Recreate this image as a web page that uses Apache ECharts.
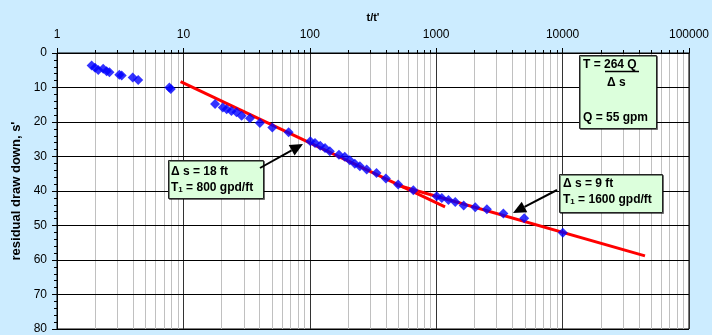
<!DOCTYPE html>
<html>
<head>
<meta charset="utf-8">
<script src="https://cdn.jsdelivr.net/npm/echarts@6/dist/echarts.min.js"></script>
<style>
  html, body { margin: 0; padding: 0; background: #CCECFF; }
  #chart { width: 712px; height: 335px; }
</style>
</head>
<body>
<div id="chart"></div>
<script>
// recovery data: t/t' vs residual drawdown s'
const ratio_tt = [1.88, 2.0, 2.12, 2.32, 2.47, 2.6, 3.11, 3.25, 3.97, 4.39, 7.75, 7.95,
    17.8, 20.5, 22.0, 24.0, 26.3, 28.9, 33.6, 40.3, 50.5, 68.0,
    101, 110, 121, 132, 144, 170, 189, 207, 227, 249, 282, 337, 400, 500, 659,
    1010, 1108, 1250, 1416, 1650, 2037, 2517, 3400, 4970, 10040];
const drawdown = [3.6, 4.3, 4.9, 4.6, 5.3, 5.6, 6.3, 6.5, 7.1, 7.8, 10.0, 10.4,
    14.8, 15.8, 16.3, 16.8, 17.2, 18.2, 18.9, 20.3, 21.6, 23.0,
    25.6, 26.1, 26.9, 27.5, 28.5, 29.5, 30.1, 31.1, 32.1, 32.8, 33.8, 34.8, 36.4, 38.1, 39.8,
    41.5, 42.0, 42.6, 43.2, 44.2, 44.7, 45.3, 46.5, 47.9, 52.1];

// straight-line fits drawn on the plot
const fit1_x = [9.5, 1175];
const fit1_y = [8.3, 44.6];
const fit2_x = [480, 44870];
const fit2_y = [38.2, 58.8];

const y_ticks = [0, 10, 20, 30, 40, 50, 60, 70, 80];

// minor log gridlines 2..9 in each decade
const minor_x = [];
[1, 10, 100, 1000, 10000].forEach(function (d) {
    for (let k = 2; k <= 9; k++) minor_x.push(d * k);
});

const FONT = '"Liberation Sans", Arial, sans-serif';

const chart = echarts.init(document.getElementById('chart'));

function arrow(x1, y1, x2, y2) {
    const ang = Math.atan2(y2 - y1, x2 - x1);
    const len = 13, half = 6;
    const bx = x2 - len * Math.cos(ang), by = y2 - len * Math.sin(ang);
    const px = -Math.sin(ang) * half, py = Math.cos(ang) * half;
    return [
        { type: 'line', z: 20, shape: { x1: x1, y1: y1, x2: bx, y2: by },
          style: { stroke: '#000', lineWidth: 2 } },
        { type: 'polygon', z: 20, shape: { points: [[x2, y2], [bx + px, by + py], [bx - px, by - py]] },
          style: { fill: '#000' } }
    ];
}

function box(x, y, w, h) {
    return { type: 'rect', z: 20, shape: { x: x + 0.5, y: y + 0.5, width: w, height: h },
        style: { fill: '#DCFFDC', stroke: '#222', lineWidth: 1, shadowColor: 'rgba(0,0,0,0.45)', shadowOffsetX: 1, shadowOffsetY: 1 } };
}

const RICH = {
    b: { font: 'bold 12px ' + FONT, fill: '#000', lineHeight: 14, verticalAlign: 'bottom' },
    sub: { font: 'bold 8px ' + FONT, fill: '#000', lineHeight: 14, verticalAlign: 'bottom' }
};

function label(x, y, text) {
    return { type: 'text', z: 21, x: x, y: y,
        style: { text: text, font: 'bold 12px ' + FONT, fill: '#000', verticalAlign: 'middle', rich: RICH } };
}

const options = {
    backgroundColor: '#CCECFF',
    animation: false,
    grid: { left: 57, right: 23, top: 53, bottom: 5, show: true, backgroundColor: '#fff', borderColor: '#000', borderWidth: 1 },
    xAxis: {
        type: 'log',
        logBase: 10,
        min: 1,
        max: 100000,
        position: 'top',
        name: "t/t'",
        nameLocation: 'middle',
        nameGap: 30,
        nameTextStyle: { fontFamily: FONT, fontWeight: 'bold', fontSize: 11, color: '#000' },
        axisLine: { show: true, lineStyle: { color: '#000', width: 1 } },
        axisTick: { show: true, length: 5, lineStyle: { color: '#000' } },
        axisLabel: { fontFamily: FONT, fontSize: 12, color: '#000', margin: 12,
            formatter: function (v) { return String(Math.round(v)); } },
        splitLine: { show: true, lineStyle: { color: '#333', width: 1 } }
    },
    yAxis: {
        type: 'value',
        inverse: true,
        min: 0,
        max: 80,
        interval: 10,
        name: "residual draw down, s'",
        nameLocation: 'middle',
        nameGap: 32,
        nameTextStyle: { fontFamily: FONT, fontWeight: 'bold', fontSize: 13, color: '#000' },
        axisLine: { show: true, lineStyle: { color: '#000', width: 1 } },
        axisTick: { show: true, length: 5, lineStyle: { color: '#000' } },
        minorTick: { show: true, splitNumber: 5, length: 3, lineStyle: { color: '#000' } },
        axisLabel: { fontFamily: FONT, fontSize: 12, color: '#000', margin: 10 },
        splitLine: { show: true, lineStyle: { color: '#000', width: 1 } },
        z: 3
    },
    series: [
        {
            type: 'custom',
            silent: true,
            z: 1,
            clip: false,
            data: minor_x.map(function (v) { return [v]; }),
            renderItem: function (params, api) {
                const v = api.value(0);
                const top = api.coord([v, y_ticks[0]]);
                const bot = api.coord([v, y_ticks[y_ticks.length - 1]]);
                const x = Math.round(top[0]) + 0.5;
                return {
                    type: 'group',
                    children: [
                        { type: 'line', shape: { x1: x, y1: top[1], x2: x, y2: bot[1] },
                          style: { stroke: '#C0C0C0', lineWidth: 1 } },
                        { type: 'line', shape: { x1: x, y1: top[1] - 3, x2: x, y2: top[1] },
                          style: { stroke: '#000', lineWidth: 1 } }
                    ]
                };
            }
        },
        {
            type: 'line',
            silent: true,
            z: 4,
            symbol: 'none',
            lineStyle: { color: '#FF0000', width: 3 },
            data: fit1_x.map(function (x, i) { return [x, fit1_y[i]]; })
        },
        {
            type: 'line',
            silent: true,
            z: 4,
            symbol: 'none',
            lineStyle: { color: '#FF0000', width: 3 },
            data: fit2_x.map(function (x, i) { return [x, fit2_y[i]]; })
        },
        {
            type: 'scatter',
            z: 5,
            symbol: 'diamond',
            symbolSize: 10,
            itemStyle: { color: '#0000FF' },
            data: ratio_tt.map(function (x, i) { return [x, drawdown[i]]; })
        }
    ],
    graphic: [
        box(168, 160, 95, 38),
        label(171, 171, '{b|Δ s = 18 ft}'),
        label(171, 187, '{b|T}{sub|1}{b| = 800 gpd/ft}'),
        ...arrow(260, 168, 303, 144),

        box(559, 174, 103, 38),
        label(563, 183, '{b|Δ s = 9 ft}'),
        label(563, 199, '{b|T}{sub|1}{b| = 1600 gpd/ft}'),
        ...arrow(557, 190, 513, 213),

        box(579, 55, 77, 73),
        label(583, 64, '{b|T = 264 Q}'),
        { type: 'line', z: 21, shape: { x1: 605, y1: 71.5, x2: 639, y2: 71.5 }, style: { stroke: '#000', lineWidth: 1.5 } },
        label(607, 82, '{b|Δ s}'),
        label(583, 117, '{b|Q = 55 gpm}')
    ]
};

chart.setOption(options);
</script>
</body>
</html>
